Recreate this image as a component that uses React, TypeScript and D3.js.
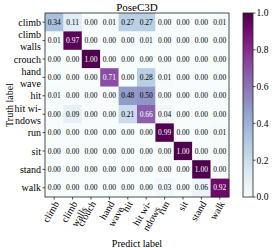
import React from "react";
import * as d3 from "d3";

// class labels (multi-line labels split with \n)
const labels: string[] = [
  "climb",
  "climb\nwalls",
  "crouch",
  "hand\nwave",
  "hit",
  "hit wi-\nndows",
  "run",
  "sit",
  "stand",
  "walk",
];

// normalized confusion matrix rows (truth) x columns (predict)
const rowClimb = [0.34, 0.11, 0.0, 0.01, 0.27, 0.27, 0.0, 0.0, 0.0, 0.01];
const rowClimbWalls = [0.01, 0.97, 0.0, 0.0, 0.0, 0.01, 0.0, 0.0, 0.0, 0.0];
const rowCrouch = [0.0, 0.0, 1.0, 0.0, 0.0, 0.0, 0.0, 0.0, 0.0, 0.0];
const rowHandWave = [0.0, 0.0, 0.0, 0.71, 0.0, 0.28, 0.01, 0.0, 0.0, 0.0];
const rowHit = [0.01, 0.0, 0.0, 0.0, 0.48, 0.5, 0.0, 0.0, 0.0, 0.0];
const rowHitWindows = [0.0, 0.09, 0.0, 0.0, 0.21, 0.66, 0.04, 0.0, 0.0, 0.0];
const rowRun = [0.0, 0.0, 0.0, 0.0, 0.0, 0.0, 0.99, 0.0, 0.0, 0.01];
const rowSit = [0.0, 0.0, 0.0, 0.0, 0.0, 0.0, 0.0, 1.0, 0.0, 0.0];
const rowStand = [0.0, 0.0, 0.0, 0.0, 0.0, 0.0, 0.0, 0.0, 1.0, 0.0];
const rowWalk = [0.0, 0.0, 0.0, 0.0, 0.0, 0.0, 0.03, 0.0, 0.06, 0.92];

const matrix = [
  rowClimb,
  rowClimbWalls,
  rowCrouch,
  rowHandWave,
  rowHit,
  rowHitWindows,
  rowRun,
  rowSit,
  rowStand,
  rowWalk,
];

const colorbarTicks = [0.0, 0.2, 0.4, 0.6, 0.8, 1.0];

const W = 272;
const H = 249;
const font = "'Liberation Serif', 'Times New Roman', serif";

export default function App() {
  const margin = { left: 45, top: 13 };
  const size = 184;
  const lh = 12; // line height for two-line y tick labels
  const lhX = 11; // line offset for rotated x tick labels

  const idx = d3.range(labels.length).map(String);
  const x = d3.scaleBand().domain(idx).range([margin.left, margin.left + size]);
  const y = d3.scaleBand().domain(idx).range([margin.top, margin.top + size]);
  const color = d3.scaleSequential(d3.interpolateBuPu).domain([0, 1]);

  const cbX = 243;
  const cbW = 10;
  const cbScale = d3.scaleLinear().domain([0, 1]).range([margin.top + size, margin.top]);
  const gradId = "cbGrad";
  const stops = d3.range(0, 1.0001, 0.05);

  return (
    <svg
      width={W}
      height={H}
      style={{ position: "absolute", left: 0, top: 0, display: "block", background: "#fff" }}
      fontFamily={font}
    >
      <defs>
        <linearGradient id={gradId} x1="0" y1="1" x2="0" y2="0">
          {stops.map((s) => (
            <stop key={s} offset={`${s * 100}%`} stopColor={color(s)} />
          ))}
        </linearGradient>
      </defs>

      {/* title */}
      <text x={margin.left + size / 2} y={10.5} textAnchor="middle" fontSize={11}>
        PoseC3D
      </text>

      {/* cells */}
      {matrix.map((row, i) =>
        row.map((v, j) => (
          <g key={`${i}-${j}`}>
            <rect
              x={x(String(j))}
              y={y(String(i))}
              width={x.bandwidth() + 0.3}
              height={y.bandwidth() + 0.3}
              fill={color(v)}
            />
            <text
              x={(x(String(j)) as number) + x.bandwidth() / 2}
              y={(y(String(i)) as number) + y.bandwidth() / 2}
              dy="0.35em"
              textAnchor="middle"
              fontSize={7.5}
              fill={v > 0.5 ? "#fff" : "#000"}
            >
              {v.toFixed(2)}
            </text>
          </g>
        ))
      )}

      <rect x={margin.left} y={margin.top} width={size} height={size} fill="none" stroke="#222" strokeWidth={0.8} />

      {/* y ticks */}
      {labels.map((l, i) => {
        const cy = (y(String(i)) as number) + y.bandwidth() / 2;
        const lines = l.split("\n");
        return (
          <g key={`y${i}`}>
            <line x1={margin.left - 2.5} x2={margin.left} y1={cy} y2={cy} stroke="#222" strokeWidth={0.8} />
            {lines.map((t, k) => (
              <text
                key={k}
                x={margin.left - 4}
                y={cy + (k - (lines.length - 1) / 2) * lh}
                dy="0.35em"
                textAnchor="end"
                fontSize={10}
              >
                {t}
              </text>
            ))}
          </g>
        );
      })}

      {/* x ticks */}
      {labels.map((l, j) => {
        const cx = (x(String(j)) as number) + x.bandwidth() / 2;
        const lines = l.split("\n");
        const by = margin.top + size;
        return (
          <g key={`x${j}`}>
            <line x1={cx} x2={cx} y1={by} y2={by + 2.5} stroke="#222" strokeWidth={0.8} />
            <g transform={`translate(${cx - 1},${by + 3}) rotate(-60)`}>
              {lines.map((t, k) => (
                <text key={k} x={0} y={k * lhX} dy="0.72em" textAnchor="end" fontSize={10}>
                  {t}
                </text>
              ))}
            </g>
          </g>
        );
      })}

      {/* axis labels */}
      <text x={margin.left + size / 2} y={246.5} textAnchor="middle" fontSize={10}>
        Predict label
      </text>
      <text
        transform={`translate(${12.5},${margin.top + size / 2}) rotate(-90)`}
        textAnchor="middle"
        fontSize={10}
      >
        Truth label
      </text>

      {/* colorbar */}
      <rect x={cbX} y={margin.top} width={cbW} height={size} fill={`url(#${gradId})`} stroke="#222" strokeWidth={0.8} />
      {colorbarTicks.map((t) => (
        <g key={t}>
          <line x1={cbX + cbW} x2={cbX + cbW + 2.5} y1={cbScale(t)} y2={cbScale(t)} stroke="#222" strokeWidth={0.8} />
          <text x={cbX + cbW + 3.5} y={cbScale(t)} dy="0.35em" fontSize={9.5}>
            {t.toFixed(1)}
          </text>
        </g>
      ))}
    </svg>
  );
}
